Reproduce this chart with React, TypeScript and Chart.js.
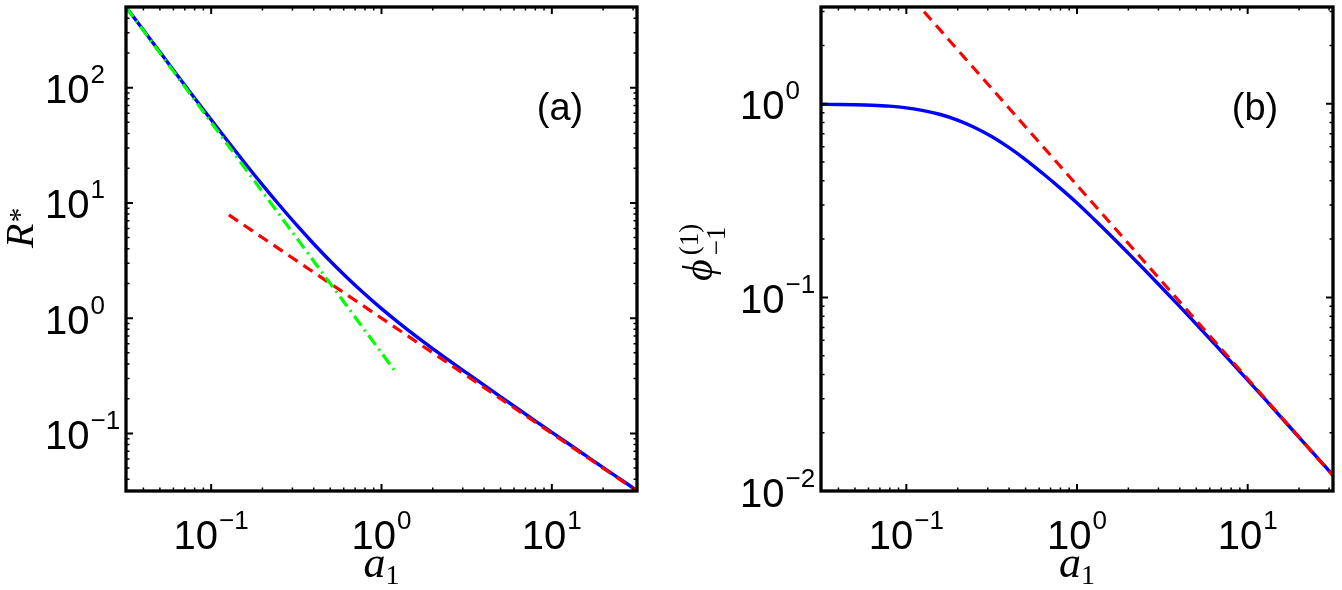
import React, { useEffect, useRef } from "react";
import { Chart, registerables } from "chart.js";

Chart.register(...registerables);

// shared a1 sample positions (10^-1.5 ... 10^1.5)
const a1Grid = [0.03162, 0.03981, 0.05012, 0.0631, 0.07943, 0.1, 0.1259, 0.1585, 0.1995, 0.2512, 0.3162, 0.3981, 0.5012, 0.631, 0.7943, 1.0, 1.259, 1.585, 1.995, 2.512, 3.162, 3.981, 5.012, 6.31, 7.943, 10, 12.59, 15.85, 19.95, 25.12, 31.62];

// ---------- panel (a): R* against a1 ----------
const rStar = [500, 319.3, 202.5, 128.8, 82.1, 52.6, 33.9, 22.0, 14.43, 9.59, 6.47, 4.446, 3.116, 2.23, 1.627, 1.209, 0.915, 0.7022, 0.5449, 0.4259, 0.3345, 0.2632, 0.2074, 0.1636, 0.1292, 0.1022, 0.08085, 0.06402, 0.05072, 0.04022, 0.0319];
// large-a1 asymptote (red dashed)
const rLargeA = [0.127, 31.62];
const rLargeVal = [7.87, 0.0316];
// small-a1 asymptote (green dash-dot)
const rSmallA = [0.03162, 1.19];
const rSmallVal = [500, 0.353];

// ---------- panel (b): phi_{-1}^{(1)} against a1 ----------
const phi = [0.9931, 0.992, 0.9892, 0.9835, 0.9723, 0.9524, 0.9222, 0.8806, 0.8237, 0.7546, 0.6775, 0.5953, 0.5137, 0.4363, 0.368, 0.3075, 0.2533, 0.2077, 0.1693, 0.1376, 0.1115, 0.0901, 0.0725, 0.0583, 0.0467, 0.0374, 0.0299, 0.0238, 0.019, 0.01514, 0.01205];
const phiAsymA = [0.127, 31.62];
const phiAsymVal = [2.99, 0.012];

// tick exponents (labels are 10^k)
const xTickExps = [-1, 0, 1];
const aYTickExps = [-1, 0, 1, 2];
const bYTickExps = [-2, -1, 0];

const X_MIN = Math.pow(10, -1.5);
const X_MAX = Math.pow(10, 1.5);

const TICK_FONT = "'Liberation Sans', Arial, Helvetica, sans-serif";
const MATH_FONT = "'Liberation Serif', 'Times New Roman', 'DejaVu Serif', serif";

const BLUE = "#0000ff";
const RED = "#ff0000";
const GREEN = "#00ff00";

const toPoints = (xs: number[], ys: number[]) => xs.map((x, i) => ({ x, y: ys[i] }));

function drawPower(ctx: CanvasRenderingContext2D, exp: number, x: number, baseline: number, centered: boolean) {
  const expText = exp < 0 ? "\u2212" + Math.abs(exp) : String(exp);
  ctx.font = `40px ${TICK_FONT}`;
  const wBase = ctx.measureText("10").width;
  ctx.font = `26px ${TICK_FONT}`;
  const wExp = ctx.measureText(expText).width;
  const total = wBase + 1 + wExp;
  const left = centered ? x - total / 2 : x;
  ctx.font = `40px ${TICK_FONT}`;
  ctx.fillText("10", left, baseline);
  ctx.font = `26px ${TICK_FONT}`;
  ctx.fillText(expText, left + wBase + 1, baseline - 20);
}

type PanelSpec = {
  offsetX: number;
  padding: { left: number; right: number; top: number; bottom: number };
  yMin: number;
  yMax: number;
  yExps: number[];
  tag: string;
  tagX: number;
  tagY: number;
  datasets: any[];
  yTitle: (ctx: CanvasRenderingContext2D) => void;
};

function axesPlugin(spec: PanelSpec) {
  return {
    id: "matlabAxes",
    afterDraw(chart: any) {
      const ctx: CanvasRenderingContext2D = chart.ctx;
      const { left, right, top, bottom } = chart.chartArea;
      const xs = chart.scales.x;
      const ys = chart.scales.y;
      ctx.save();
      ctx.strokeStyle = "#000";
      ctx.fillStyle = "#000";

      // ticks on all four sides, pointing inward
      const xLo = Math.log10(X_MIN), xHi = Math.log10(X_MAX);
      const yLo = Math.log10(spec.yMin), yHi = Math.log10(spec.yMax);
      const eps = 1e-9;
      for (let k = Math.floor(xLo); k <= Math.ceil(xHi); k++) {
        for (let m = 1; m <= 9; m++) {
          const v = m * Math.pow(10, k);
          const lv = Math.log10(v);
          if (lv < xLo + eps || lv > xHi - eps) continue;
          const px = xs.getPixelForValue(v);
          const len = m === 1 ? 7 : 3.5;
          ctx.lineWidth = m === 1 ? 2 : 1.5;
          ctx.beginPath();
          ctx.moveTo(px, bottom);
          ctx.lineTo(px, bottom - len);
          ctx.moveTo(px, top);
          ctx.lineTo(px, top + len);
          ctx.stroke();
        }
      }
      for (let k = Math.floor(yLo); k <= Math.ceil(yHi); k++) {
        for (let m = 1; m <= 9; m++) {
          const v = m * Math.pow(10, k);
          const lv = Math.log10(v);
          if (lv < yLo + eps || lv > yHi - eps) continue;
          const py = ys.getPixelForValue(v);
          const len = m === 1 ? 7 : 3.5;
          ctx.lineWidth = m === 1 ? 2 : 1.5;
          ctx.beginPath();
          ctx.moveTo(left, py);
          ctx.lineTo(left + len, py);
          ctx.moveTo(right, py);
          ctx.lineTo(right - len, py);
          ctx.stroke();
        }
      }

      // frame
      ctx.lineWidth = 3.3;
      ctx.strokeRect(left, top, right - left, bottom - top);

      // tick labels
      ctx.textAlign = "left";
      ctx.textBaseline = "alphabetic";
      for (const e of xTickExps) {
        const px = xs.getPixelForValue(Math.pow(10, e));
        drawPower(ctx, e, px, 549, true);
      }
      for (const e of spec.yExps) {
        const py = ys.getPixelForValue(Math.pow(10, e));
        drawPower(ctx, e, left - 81, py + 15.5, false);
      }

      // x-axis title: a_1
      ctx.font = `italic 44px ${MATH_FONT}`;
      const wa = ctx.measureText("a").width;
      ctx.font = `28px ${MATH_FONT}`;
      const w1 = ctx.measureText("1").width;
      const cx = (left + right) / 2;
      const sx = cx - (wa + w1) / 2;
      ctx.font = `italic 44px ${MATH_FONT}`;
      ctx.fillText("a", sx, 577);
      ctx.font = `28px ${MATH_FONT}`;
      ctx.fillText("1", sx + wa, 584);

      // y-axis title
      spec.yTitle(ctx);

      // panel tag
      ctx.font = `38px ${TICK_FONT}`;
      ctx.textAlign = "center";
      ctx.textBaseline = "middle";
      ctx.fillText(spec.tag, spec.tagX, spec.tagY);
      ctx.restore();
    },
  };
}

function Panel({ spec }: { spec: PanelSpec }) {
  const ref = useRef<HTMLCanvasElement | null>(null);
  useEffect(() => {
    const canvas = ref.current;
    if (!canvas) return;
    const chart = new Chart(canvas, {
      type: "scatter",
      data: { datasets: spec.datasets },
      options: {
        animation: false,
        responsive: false,
        devicePixelRatio: 1,
        layout: { padding: spec.padding },
        plugins: { legend: { display: false }, tooltip: { enabled: false } },
        events: [],
        elements: { point: { radius: 0 } },
        scales: {
          x: { type: "logarithmic", min: X_MIN, max: X_MAX, display: false },
          y: { type: "logarithmic", min: spec.yMin, max: spec.yMax, display: false },
        },
      },
      plugins: [axesPlugin(spec)],
    } as any);
    return () => chart.destroy();
  }, [spec]);
  return (
    <canvas
      ref={ref}
      width={671}
      height={590}
      style={{ position: "absolute", left: spec.offsetX, top: 0, width: 671, height: 590 }}
    />
  );
}

const lineStyle = (color: string, dash: number[], width: number) => ({
  borderColor: color,
  backgroundColor: color,
  borderWidth: width,
  borderDash: dash,
  showLine: true,
  fill: false,
  pointRadius: 0,
  cubicInterpolationMode: "monotone" as const,
  borderJoinStyle: "round" as const,
});

const specA: PanelSpec = {
  offsetX: 0,
  padding: { left: 126, right: 34, top: 7, bottom: 99 },
  yMin: Math.pow(10, -1.5),
  yMax: Math.pow(10, 2.7),
  yExps: aYTickExps,
  tag: "(a)",
  tagX: 560,
  tagY: 110,
  datasets: [
    { label: "small a1", data: toPoints(rSmallA, rSmallVal), ...lineStyle(GREEN, [12, 5, 2, 5], 3.2) },
    { label: "large a1", data: toPoints(rLargeA, rLargeVal), ...lineStyle(RED, [11, 7], 3.2) },
    { label: "R*", data: toPoints(a1Grid, rStar), ...lineStyle(BLUE, [], 3.4) },
  ],
  yTitle: (ctx) => {
    ctx.save();
    ctx.translate(33, 248);
    ctx.rotate(-Math.PI / 2);
    ctx.textAlign = "left";
    ctx.textBaseline = "alphabetic";
    ctx.font = `italic 40px ${MATH_FONT}`;
    const wR = ctx.measureText("R").width;
    ctx.fillText("R", 0, 0);
    ctx.font = `30px ${MATH_FONT}`;
    ctx.fillText("*", wR + 1, -4);
    ctx.restore();
  },
};

const specB: PanelSpec = {
  offsetX: 671,
  padding: { left: 150, right: 9, top: 7, bottom: 99 },
  yMin: 0.01,
  yMax: Math.pow(10, 0.5),
  yExps: bYTickExps,
  tag: "(b)",
  tagX: 1255 - 671,
  tagY: 110,
  datasets: [
    { label: "asymptote", data: toPoints(phiAsymA, phiAsymVal), ...lineStyle(RED, [11, 7], 3.2) },
    { label: "phi", data: toPoints(a1Grid, phi), ...lineStyle(BLUE, [], 3.4) },
  ],
  yTitle: (ctx) => {
    ctx.save();
    ctx.translate(712 - 671, 281);
    ctx.rotate(-Math.PI / 2);
    ctx.textAlign = "left";
    ctx.textBaseline = "alphabetic";
    ctx.font = `italic 42px ${MATH_FONT}`;
    const wp = ctx.measureText("\u03D5").width;
    ctx.fillText("\u03D5", 0, 0);
    ctx.font = `27px ${MATH_FONT}`;
    ctx.fillText("(1)", wp + 4, -14);
    ctx.fillText("\u22121", wp + 4, 13);
    ctx.restore();
  },
};

export default function App() {
  return (
    <div
      style={{
        position: "absolute",
        left: 0,
        top: 0,
        width: 1342,
        height: 590,
        background: "#ffffff",
        overflow: "hidden",
      }}
    >
      <Panel spec={specA} />
      <Panel spec={specB} />
    </div>
  );
}
